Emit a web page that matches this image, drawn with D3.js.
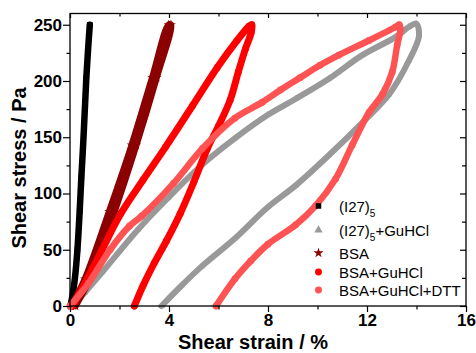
<!DOCTYPE html>
<html>
<head>
<meta charset="utf-8">
<script src="https://cdn.jsdelivr.net/npm/d3@7"></script>
<style>
  body { margin: 0; background: #fff; }
  svg { display: block; }
  text { font-family: "Liberation Sans", Arial, sans-serif; }
</style>
</head>
<body>
<svg id="chart" width="476" height="353"></svg>
<script>
// values, each series ordered along its loop (loading then unloading)
const strainI27 = [0.02, 0.12, 0.2, 0.3, 0.39, 0.46, 0.53, 0.6, 0.66, 0.73, 0.8];
const stressI27 = [0, 12, 25, 50, 84, 115, 143, 175, 203, 228, 250];

const strainI27Gu = [0.1, 0.6, 1.3, 2.75, 3.96, 5.31, 6.66, 8.0, 9.11, 10.46, 11.81, 13.15, 13.69, 13.99,
                     14.1, 13.69, 12.89, 11.81, 10.46, 9.11, 8.0, 6.66, 5.31, 4.5, 3.7];
const stressI27Gu = [0, 12, 30, 68, 96, 125, 149, 170, 184, 202, 223, 239, 248, 251,
                     240, 218, 188, 163, 134, 107, 88, 60, 35, 18, 0];

const strainBSA = [0.05, 0.6, 1.58, 2.49, 3.32, 3.98, 4.08, 3.5, 2.68, 1.8, 0.8, 0.22];
const stressBSA = [0, 24, 84, 143, 203, 250, 250, 203, 143, 84, 24, 0];

const strainBSAGu = [0.1, 0.6, 1.25, 2.05, 2.95, 3.85, 4.95, 5.95, 6.75, 7.25,
                     7.35, 7.32, 7.08, 6.8, 6.47, 6.0, 5.55, 5.0, 4.45, 3.9, 3.4, 2.95, 2.6];
const stressBSAGu = [0, 20, 48, 82, 112, 141, 178, 212, 236, 249,
                     250, 243, 228, 208, 183, 160, 140, 110, 82, 58, 38, 18, 0];

const strainBSAGuDTT = [0.0, 0.74, 1.62, 2.4, 2.9, 4.18, 5.35, 6.66, 7.76, 8.5, 9.3, 10.1, 10.86, 12.08, 13.15, 13.3,
                        13.35, 13.22, 13.02, 12.62, 12.08, 11.4, 10.73, 9.92, 9.11, 8.0, 7.3, 6.66, 5.9];
const stressBSAGuDTT = [0, 20, 50, 71, 80, 109, 140, 167, 181, 192, 203, 214, 223, 236, 248, 250,
                        246, 232, 208, 188, 172, 143, 113, 89, 72, 55, 40, 24, 0];

const xTicks = [0, 4, 8, 12, 16];
const xMinor = [2, 6, 10, 14];
const yTicks = [0, 50, 100, 150, 200, 250];
const yMinor = [25, 75, 125, 175, 225];

const svg = d3.select('#chart');
const x = d3.scaleLinear().domain([0, 16]).range([70, 466]);
const y = d3.scaleLinear().domain([0, 260]).range([306, 13.5]);

const series = [
  { name: ['(I27)', '5', ''], xs: strainI27, ys: stressI27, color: '#000000', symbol: d3.symbolSquare, size: 30, legendSize: 30, band: 6.5 },
  { name: ['(I27)', '5', '+GuHCl'], xs: strainI27Gu, ys: stressI27Gu, color: '#999999', symbol: d3.symbolTriangle, size: 18, legendSize: 30, band: 6 },
  { name: ['BSA', '', ''], xs: strainBSA, ys: stressBSA, color: '#8b0000', symbol: d3.symbolStar, size: 30, legendSize: 32, band: 6.5 },
  { name: ['BSA+GuHCl', '', ''], xs: strainBSAGu, ys: stressBSAGu, color: '#ff0000', symbol: d3.symbolCircle, size: 36, legendSize: 38, band: 7 },
  { name: ['BSA+GuHCl+DTT', '', ''], xs: strainBSAGuDTT, ys: stressBSAGuDTT, color: '#ff5252', symbol: d3.symbolCircle, size: 36, legendSize: 38, band: 6.5 }
];

const line = d3.line().curve(d3.curveCatmullRom.alpha(0.5));

series.forEach(s => {
  const pts = s.xs.map((v, i) => [x(v), y(s.ys[i])]);
  svg.append('path')
    .attr('d', line(pts))
    .attr('fill', 'none')
    .attr('stroke', s.color)
    .attr('stroke-width', s.band)
    .attr('stroke-linejoin', 'round')
    .attr('stroke-linecap', 'round');
  svg.append('g').selectAll('path')
    .data(pts)
    .join('path')
    .attr('transform', d => 'translate(' + d[0] + ',' + d[1] + ')')
    .attr('d', d3.symbol(s.symbol, s.size))
    .attr('fill', s.color);
});

// axes
function styleAxis(g) {
  g.select('.domain').remove();
  g.selectAll('line').attr('stroke', '#000').attr('stroke-width', 1.2);
  g.selectAll('text').attr('font-size', 17).attr('font-weight', 'bold').attr('fill', '#000')
    .style('font-family', '"Liberation Sans", Arial, sans-serif');
}

svg.append('g').attr('transform', 'translate(0,306)')
  .call(d3.axisBottom(x).tickValues(xTicks).tickSize(6).tickPadding(2).tickFormat(d3.format('d'))).call(styleAxis);
svg.append('g').attr('transform', 'translate(0,306)')
  .call(d3.axisBottom(x).tickValues(xMinor).tickSize(3.5).tickFormat('')).call(styleAxis);
svg.append('g').attr('transform', 'translate(0,13.5)')
  .call(d3.axisTop(x).tickValues(xTicks).tickSize(-4.5).tickFormat('')).call(styleAxis);
svg.append('g').attr('transform', 'translate(0,13.5)')
  .call(d3.axisTop(x).tickValues(xMinor).tickSize(-3).tickFormat('')).call(styleAxis);

svg.append('g').attr('transform', 'translate(70,0)')
  .call(d3.axisLeft(y).tickValues(yTicks).tickSize(7).tickPadding(1).tickFormat(d3.format('d'))).call(styleAxis);
svg.append('g').attr('transform', 'translate(70,0)')
  .call(d3.axisLeft(y).tickValues(yMinor).tickSize(3.5).tickFormat('')).call(styleAxis);
svg.append('g').attr('transform', 'translate(466,0)')
  .call(d3.axisRight(y).tickValues(yTicks).tickSize(-6).tickFormat('')).call(styleAxis);
svg.append('g').attr('transform', 'translate(466,0)')
  .call(d3.axisRight(y).tickValues(yMinor).tickSize(-4).tickFormat('')).call(styleAxis);

svg.append('rect')
  .attr('x', 70).attr('y', 13.5).attr('width', 396).attr('height', 292.5)
  .attr('fill', 'none').attr('stroke', '#000').attr('stroke-width', 1.3);

// axis titles
svg.append('text')
  .attr('x', 253).attr('y', 348.5)
  .attr('text-anchor', 'middle')
  .attr('font-size', 20).attr('font-weight', 'bold')
  .text('Shear strain / %');

svg.append('text')
  .attr('transform', 'translate(26,168) rotate(-90)')
  .attr('text-anchor', 'middle')
  .attr('font-size', 20).attr('font-weight', 'bold')
  .text('Shear stress / Pa');

// legend
const legendY = [212, 236, 259, 278, 296];
const legend = svg.append('g');
series.forEach((s, i) => {
  legend.append('path')
    .attr('transform', 'translate(318.5,' + (legendY[i] - 6) + ')')
    .attr('d', d3.symbol(s.symbol, s.legendSize))
    .attr('fill', s.color);
  const t = legend.append('text')
    .attr('x', 339).attr('y', legendY[i])
    .attr('font-size', 15).attr('fill', '#000');
  t.append('tspan').text(s.name[0]);
  if (s.name[1]) {
    t.append('tspan').attr('font-size', 10).attr('dy', 5).text(s.name[1]);
    t.append('tspan').attr('dy', -5).text(s.name[2]);
  }
});
</script>
</body>
</html>
